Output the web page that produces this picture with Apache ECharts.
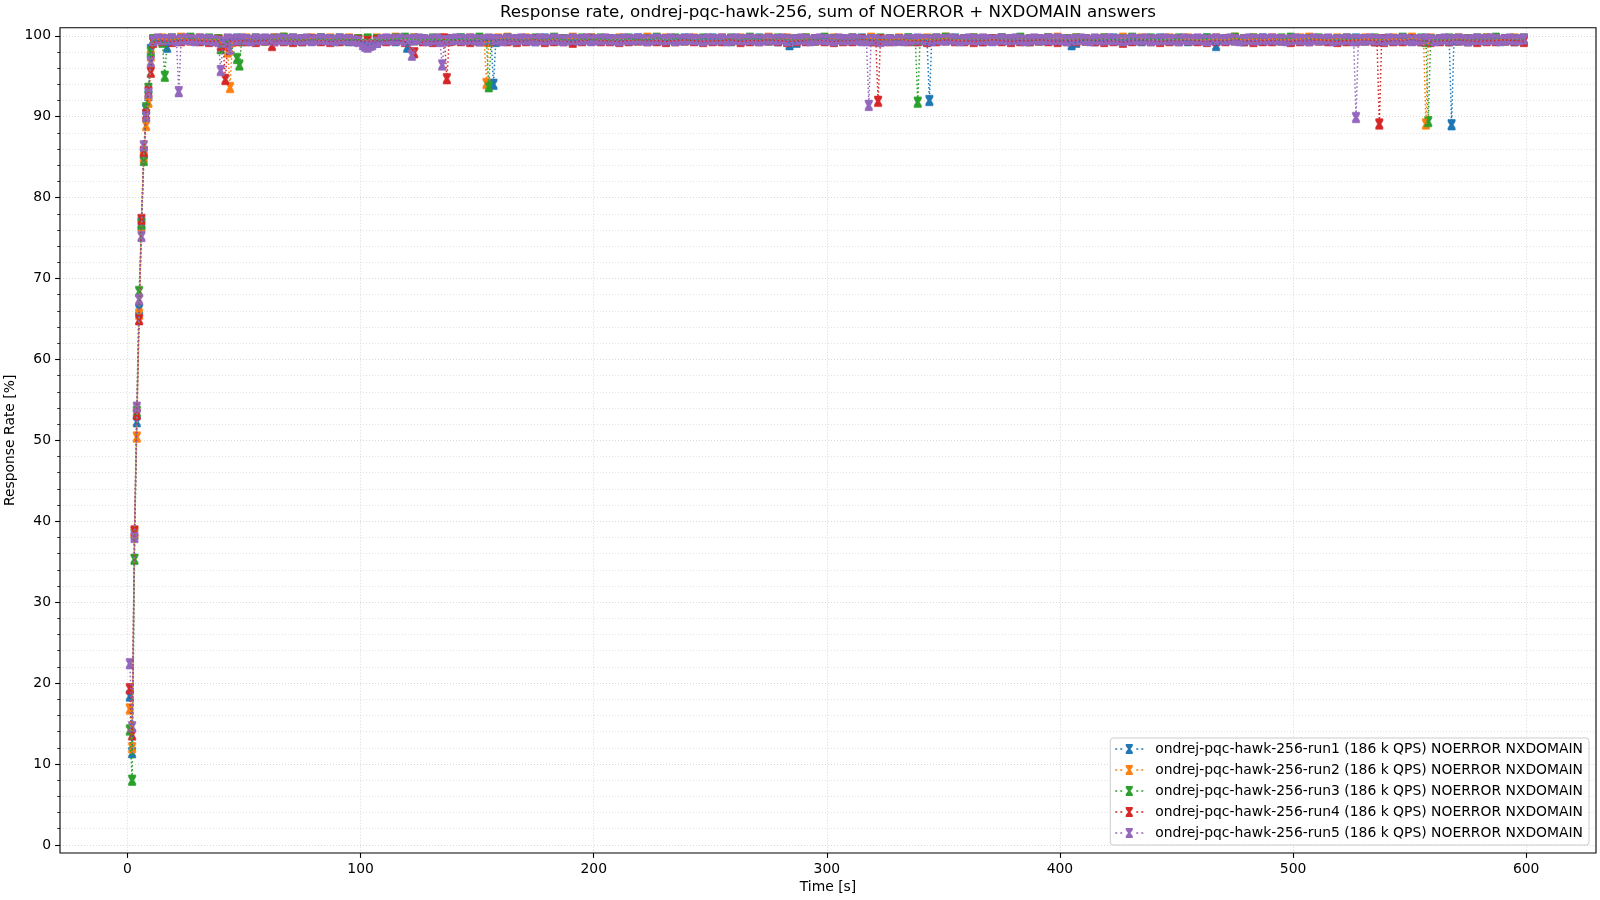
<!DOCTYPE html>
<html><head><meta charset="utf-8">
<script src="https://cdn.jsdelivr.net/npm/echarts@6/dist/echarts.min.js"></script>
<style>html,body{margin:0;padding:0;background:#fff}#c{width:1600px;height:900px}</style>
</head><body><div id="c"></div>
<script>
const titleText = 'Response rate, ondrej-pqc-hawk-256, sum of NOERROR + NXDOMAIN answers';
const xAxisTitle = 'Time [s]';
const yAxisTitle = 'Response Rate [%]';
const seriesNames = [
  'ondrej-pqc-hawk-256-run1 (186 k QPS) NOERROR NXDOMAIN',
  'ondrej-pqc-hawk-256-run2 (186 k QPS) NOERROR NXDOMAIN',
  'ondrej-pqc-hawk-256-run3 (186 k QPS) NOERROR NXDOMAIN',
  'ondrej-pqc-hawk-256-run4 (186 k QPS) NOERROR NXDOMAIN',
  'ondrej-pqc-hawk-256-run5 (186 k QPS) NOERROR NXDOMAIN'
];
const colors = ['#1f77b4', '#ff7f0e', '#2ca02c', '#d62728', '#9467bd'];

// ramp-up seconds
const rampTimes = [1, 2, 3, 4, 5, 6, 7, 8, 9, 10];
const run1Ramp = [18.4, 11.4, 38.4, 52.3, 66.2, 76.9, 85.4, 90.9, 92.6, 98.3];
const run2Ramp = [16.8, 12.0, 38.6, 50.4, 65.6, 76.5, 85.0, 88.9, 91.8, 97.5];
const run3Ramp = [14.2, 8.0, 35.3, 53.6, 68.4, 76.7, 84.6, 91.1, 93.5, 98.0];
const run4Ramp = [19.3, 13.6, 38.8, 53.2, 64.9, 77.3, 85.7, 90.3, 93.1, 95.5];
const run5Ramp = [22.4, 14.6, 38.0, 54.1, 67.4, 75.2, 86.4, 90.0, 92.9, 96.8];

// steady-state samples, starting at t = 11 s
const plateauStart = 11;
const plateauStep = [4, 4, 4, 4, 2];
const run1Plateau = [
  99.3,99.5,99.4,99.5,99.6,99.5,99.4,99.5,99.5,99.6,
  99.5,99.4,99.5,99.6,99.5,99.5,99.4,99.5,99.6,99.5,
  99.5,99.4,99.5,99.0,99.2,99.5,99.4,99.5,99.6,99.5,
  99.4,99.5,99.5,99.6,99.5,99.4,99.5,99.5,99.6,99.5,
  99.5,99.4,99.6,99.5,99.5,99.4,99.5,99.6,99.5,99.5,
  99.4,99.5,99.6,99.5,99.5,99.4,99.5,99.6,99.5,99.5,
  99.6,99.5,99.4,99.5,99.5,99.6,99.5,99.4,99.5,99.2,
  99.5,99.5,99.6,99.4,99.5,99.5,99.6,99.5,99.4,99.5,
  99.5,99.6,99.5,99.4,99.5,99.5,99.6,99.5,99.5,99.4,
  99.5,99.6,99.5,99.5,99.4,99.5,99.6,99.5,99.5,99.2,
  99.5,99.4,99.5,99.6,99.5,99.5,99.4,99.5,99.6,99.5,
  99.5,99.4,99.5,99.6,99.1,99.5,99.5,99.4,99.5,99.6,
  99.5,99.5,99.4,99.5,99.6,99.5,99.5,99.4,99.5,99.6,
  99.5,99.4,99.5,99.5,99.6,99.5,99.4,99.5,99.5,99.6,
  99.5,99.4,99.5,99.6,99.5,99.5,99.4,99.5
];
const run2Plateau = [
  99.5,99.6,99.5,99.7,99.5,99.6,99.5,99.5,99.6,99.5,
  99.6,99.5,99.5,99.6,99.7,99.5,99.5,99.6,99.5,99.6,
  99.5,99.6,99.5,99.5,99.6,99.5,99.7,99.5,99.6,99.5,
  99.5,99.6,99.5,99.5,99.6,99.5,99.5,99.6,99.7,99.5,
  99.6,99.5,99.5,99.6,99.5,99.7,99.5,99.6,99.5,99.5,
  99.6,99.5,99.5,99.7,99.5,99.6,99.5,99.5,99.6,99.5,
  99.5,99.6,99.5,99.6,99.5,99.5,99.7,99.5,99.6,99.5,
  99.6,99.5,99.5,99.6,99.5,99.6,99.5,99.7,99.5,99.5,
  99.6,99.5,99.5,99.6,99.5,99.7,99.5,99.5,99.6,99.5,
  99.5,99.6,99.5,99.6,99.5,99.5,99.6,99.7,99.5,99.6,
  99.5,99.5,99.6,99.5,99.7,99.5,99.6,99.5,99.5,99.6,
  99.5,99.6,99.5,99.5,99.6,99.5,99.7,99.5,99.6,99.5,
  99.6,99.5,99.5,99.6,99.7,99.5,99.5,99.6,99.5,99.5,
  99.6,99.5,99.5,99.6,99.5,99.7,99.5,99.6,99.5,99.5,
  99.6,99.5,99.5,99.6,99.5,99.5,99.6,99.5
];
const run3Plateau = [
  99.5,99.4,99.6,99.5,99.7,99.5,99.6,99.5,99.5,99.6,
  99.5,99.6,99.5,99.5,99.7,99.6,99.5,99.5,99.6,99.5,
  99.6,99.5,99.5,99.6,99.5,99.5,99.6,99.7,99.5,99.5,
  99.6,99.5,99.5,99.6,99.5,99.7,99.5,99.5,99.6,99.5,
  99.5,99.6,99.5,99.7,99.5,99.5,99.6,99.5,99.6,99.5,
  99.5,99.6,99.5,99.5,99.7,99.5,99.6,99.5,99.5,99.6,
  99.5,99.5,99.6,99.5,99.7,99.5,99.5,99.6,99.5,99.5,
  99.6,99.5,99.7,99.5,99.5,99.6,99.5,99.5,99.6,99.5,
  99.5,99.6,99.5,99.5,99.6,99.7,99.5,99.5,99.6,99.5,
  99.5,99.6,99.5,99.7,99.5,99.5,99.6,99.5,99.5,99.6,
  99.5,99.5,99.6,99.5,99.5,99.7,99.5,99.6,99.5,99.5,
  99.6,99.5,99.5,99.6,99.5,99.5,99.7,99.5,99.6,99.5,
  99.5,99.6,99.7,99.5,99.5,99.6,99.5,99.5,99.6,99.5,
  99.5,99.6,99.5,99.5,99.7,99.5,99.6,99.5,99.5,99.6,
  99.5,99.5,99.6,99.5,99.7,99.5,99.5,99.6
];
const run4Plateau = [
  99.2,99.4,99.3,99.4,99.5,99.4,99.3,99.4,99.5,99.4,
  99.4,99.3,99.5,99.4,99.4,99.3,99.4,99.5,99.4,99.3,
  99.4,99.5,99.4,99.3,99.4,99.4,99.5,99.3,99.4,99.4,
  99.3,99.4,99.5,99.4,99.3,99.4,99.4,99.5,99.4,99.3,
  99.4,99.5,99.3,99.4,99.4,99.2,99.4,99.5,99.4,99.4,
  99.3,99.4,99.5,99.4,99.4,99.3,99.4,99.5,99.4,99.3,
  99.4,99.4,99.5,99.3,99.4,99.4,99.5,99.4,99.3,99.4,
  99.4,99.5,99.4,99.3,99.4,99.4,99.5,99.4,99.3,99.4,
  99.5,99.4,99.4,99.3,99.4,99.5,99.4,99.4,99.3,99.4,
  99.5,99.4,99.3,99.4,99.4,99.5,99.4,99.3,99.4,99.4,
  99.5,99.4,99.3,99.4,99.2,99.4,99.5,99.4,99.3,99.4,
  99.4,99.5,99.4,99.3,99.4,99.4,99.5,99.4,99.3,99.4,
  99.4,99.5,99.3,99.4,99.4,99.5,99.4,99.3,99.4,99.4,
  99.5,99.4,99.3,99.4,99.4,99.5,99.4,99.3,99.4,99.4,
  99.5,99.4,99.3,99.4,99.4,99.5,99.4,99.3
];
const run5Plateau = [
  99.4,99.6,99.5,99.5,99.6,99.4,99.5,99.6,99.5,99.4,
  99.6,99.5,99.5,99.4,99.6,99.5,99.6,99.5,99.5,99.6,
  99.5,99.4,99.6,99.5,99.6,99.5,99.4,99.6,99.5,99.5,
  99.6,99.5,99.5,99.6,99.4,99.5,99.6,99.5,99.5,99.4,
  99.6,99.5,99.5,99.4,99.3,99.0,98.8,98.9,99.2,99.5,
  99.6,99.5,99.5,99.6,99.4,99.5,99.5,99.6,99.5,99.4,
  99.5,99.6,99.5,99.4,99.5,99.6,99.5,99.5,99.6,99.5,
  99.4,99.5,99.6,99.5,99.5,99.4,99.6,99.5,99.5,99.6,
  99.5,99.5,99.4,99.6,99.5,99.5,99.6,99.5,99.4,99.5,
  99.6,99.5,99.5,99.6,99.4,99.5,99.5,99.6,99.5,99.5,
  99.4,99.6,99.5,99.5,99.6,99.5,99.4,99.5,99.6,99.5,
  99.5,99.6,99.4,99.5,99.5,99.6,99.5,99.5,99.4,99.6,
  99.5,99.5,99.6,99.4,99.5,99.6,99.5,99.5,99.6,99.5,
  99.4,99.5,99.6,99.5,99.5,99.6,99.4,99.5,99.5,99.6,
  99.5,99.4,99.5,99.6,99.5,99.5,99.4,99.6,99.5,99.5,
  99.6,99.5,99.4,99.5,99.6,99.5,99.3,99.4,99.5,99.4,
  99.5,99.4,99.5,99.5,99.6,99.5,99.5,99.4,99.6,99.5,
  99.5,99.6,99.5,99.4,99.5,99.6,99.5,99.5,99.6,99.5,
  99.4,99.5,99.6,99.5,99.5,99.6,99.5,99.4,99.5,99.6,
  99.5,99.5,99.6,99.5,99.6,99.5,99.4,99.5,99.5,99.6,
  99.5,99.4,99.6,99.5,99.5,99.6,99.5,99.5,99.4,99.5,
  99.6,99.5,99.5,99.6,99.4,99.5,99.5,99.6,99.5,99.5,
  99.4,99.6,99.5,99.5,99.6,99.5,99.4,99.5,99.6,99.5,
  99.5,99.6,99.5,99.4,99.5,99.6,99.5,99.5,99.6,99.5,
  99.6,99.5,99.5,99.4,99.5,99.6,99.5,99.5,99.4,99.6,
  99.5,99.5,99.6,99.4,99.5,99.5,99.6,99.5,99.4,99.5,
  99.5,99.6,99.5,99.5,99.4,99.6,99.5,99.5,99.6,99.5,
  99.4,99.5,99.5,99.6,99.5,99.4,99.5,99.6,99.5,99.5,
  99.6,99.5,99.4,99.5,99.6,99.5,99.5,99.6,99.5,99.4,
  99.5,99.6,99.5,99.5,99.6
];

// short drops: [time s, response rate %]
const run1Dips = [[17,98.6],[103,98.9],[120,98.6],[156,99.4],[157,94.0],[158,99.3],[284,98.9],[343,99.4],[344,92.0],[345,99.5],[405,98.9],[467,98.8],[567,99.4],[568,89.0],[569,99.5]];
const run2Dips = [[43,98.0],[44,93.6],[45,99.3],[153,99.4],[154,94.1],[155,99.3],[556,99.4],[557,89.1],[558,99.4]];
const run3Dips = [[15,99.2],[16,95.0],[17,99.4],[40,98.4],[47,97.2],[48,96.4],[49,99.4],[154,99.4],[155,93.7],[156,99.5],[338,99.4],[339,91.8],[340,99.5],[557,99.3],[558,89.4],[559,99.5]];
const run4Dips = [[40,98.8],[41,98.9],[42,94.6],[43,99.3],[62,98.8],[123,97.9],[136,99.6],[137,94.7],[138,99.4],[321,99.4],[322,91.9],[323,99.5],[536,99.4],[537,89.1],[538,99.5]];
const run5Dips = [[21,99.4],[22,93.1],[23,99.5],[39,99.3],[40,95.7],[41,99.2],[44,98.3],[101,98.9],[102,98.7],[103,98.6],[104,98.8],[105,98.9],[122,97.6],[134,99.3],[135,96.4],[136,99.4],[317,99.4],[318,91.4],[319,99.5],[526,99.4],[527,89.9],[528,99.5]];

// error-bar half widths (percentage points)
const errHalf = [0.65, 0.65, 0.65, 0.65, 0.65];

const xTicks = [0, 100, 200, 300, 400, 500, 600];
const yTicks = [0, 10, 20, 30, 40, 50, 60, 70, 80, 90, 100];

const ramps = [run1Ramp, run2Ramp, run3Ramp, run4Ramp, run5Ramp];
const plateaus = [run1Plateau, run2Plateau, run3Plateau, run4Plateau, run5Plateau];
const dips = [run1Dips, run2Dips, run3Dips, run4Dips, run5Dips];

function buildPoints(k) {
  const m = new Map();
  ramps[k].forEach((v, i) => m.set(rampTimes[i], v));
  plateaus[k].forEach((v, i) => m.set(plateauStart + i * plateauStep[k], v));
  dips[k].forEach(([t, v]) => m.set(t, v));
  return [...m.entries()].sort((a, b) => a[0] - b[0]);
}

const FONT = 'DejaVu Sans';
const X_MIN = -28.95, X_MAX = 629.95, Y_MIN = -1, Y_MAX = 101;
const G = {left: 60, top: 27.7, width: 1536, height: 825.3};
const pxX = G.width / (X_MAX - X_MIN), pxY = G.height / (Y_MAX - Y_MIN);
const x0px = G.left + (xTicks[0] - X_MIN) * pxX;
const x1px = G.left + (xTicks[xTicks.length - 1] - X_MIN) * pxX;
const y100px = G.top + (Y_MAX - yTicks[yTicks.length - 1]) * pxY;
const y0px = G.top + (Y_MAX - yTicks[0]) * pxY;

const legendIcon = 'path://M0 4.2h2v1.6h-2z M5 4.2h2v1.6h-2z M10.5 0h7v2l-2.3 3l2.3 3v2h-7v-2l2.3-3l-2.3-3z M21 4.2h2v1.6h-2z M26 4.2h2v1.6h-2z';

const series = [];
for (let k = 0; k < 5; k++) {
  const pts = buildPoints(k);
  const col = colors[k];
  const e = errHalf[k];
  series.push({
    name: seriesNames[k], type: 'line', xAxisIndex: 0, yAxisIndex: 0,
    data: pts, showSymbol: false, symbol: 'none', color: col,
    lineStyle: {color: col, width: 1.5, type: [1.5, 2.5]},
    animation: false, silent: true, z: 2
  });
  series.push({
    name: seriesNames[k], type: 'custom', xAxisIndex: 0, yAxisIndex: 0,
    data: pts, color: col, animation: false, silent: true, z: 2,
    encode: {x: 0, y: 1},
    renderItem: function (params, api) {
      const t = api.value(0), v = api.value(1);
      const top = api.coord([t, v + e]);
      const bot = api.coord([t, v - e]);
      const cx = top[0], yt = top[1], yb = bot[1], ym = (yt + yb) / 2;
      const w = 3.6, wm = 1.7, ct = 2.0;
      return {
        type: 'polygon',
        shape: {points: [
          [cx - w, yt], [cx + w, yt], [cx + w, yt + ct], [cx + wm, ym],
          [cx + w, yb - ct], [cx + w, yb], [cx - w, yb], [cx - w, yb - ct],
          [cx - wm, ym], [cx - w, yt + ct]
        ]},
        style: {fill: col, stroke: col, lineWidth: 0.6}
      };
    }
  });
}

const gridLine = {show: true, lineStyle: {color: '#cfcfcf', width: 0.8, type: [1, 2]}};
const labelStyle = {color: '#000', fontFamily: FONT, fontSize: 13.9};

const chart = echarts.init(document.getElementById('c'), null, {renderer: 'canvas'});
chart.setOption({
  animation: false,
  backgroundColor: '#fff',
  textStyle: {fontFamily: FONT},
  grid: [
    {left: G.left, top: G.top, width: G.width, height: G.height, show: true, borderColor: '#000', borderWidth: 1.1, backgroundColor: 'transparent', z: 3},
    {left: x0px, top: G.top, width: x1px - x0px, height: G.height, show: false},
    {left: G.left, top: y100px, width: G.width, height: y0px - y100px, show: false}
  ],
  xAxis: [
    {type: 'value', gridIndex: 0, min: X_MIN, max: X_MAX, show: false},
    {type: 'value', gridIndex: 1, min: xTicks[0], max: xTicks[xTicks.length - 1], interval: 100,
     axisLine: {show: false}, axisTick: {show: true, length: 4.9, lineStyle: {color: '#000', width: 1.1}},
     axisLabel: Object.assign({margin: 9}, labelStyle), splitLine: gridLine},
    {type: 'value', gridIndex: 2, min: 0, max: 1, show: false}
  ],
  yAxis: [
    {type: 'value', gridIndex: 0, min: Y_MIN, max: Y_MAX, show: false},
    {type: 'value', gridIndex: 1, min: 0, max: 1, show: false},
    {type: 'value', gridIndex: 2, min: yTicks[0], max: yTicks[yTicks.length - 1], interval: 10,
     axisLine: {show: false}, axisTick: {show: true, length: 4.9, lineStyle: {color: '#000', width: 1.1}},
     minorTick: {show: true, splitNumber: 5, length: 2.8, lineStyle: {color: '#000', width: 0.8}},
     axisLabel: Object.assign({margin: 9}, labelStyle), splitLine: gridLine,
     minorSplitLine: {show: true, lineStyle: {color: '#dcdcdc', width: 0.8, type: [1, 2]}}}
  ],
  legend: {
    show: true, orient: 'vertical', right: 11, bottom: 55,
    padding: [4, 6, 5, 5], itemGap: 7, itemWidth: 28, itemHeight: 10,
    backgroundColor: 'rgba(255,255,255,0.8)', borderColor: '#cccccc', borderWidth: 1, borderRadius: 3,
    selectedMode: false, z: 10,
    textStyle: {color: '#000', fontFamily: FONT, fontSize: 13.9, padding: [0, 0, 0, 7]},
    data: seriesNames.map(n => ({name: n, icon: legendIcon}))
  },
  graphic: [
    {type: 'text', x: (G.left + G.left + G.width) / 2, y: 12.5, style: {text: titleText, fill: '#000', fontFamily: FONT, fontSize: 16.7, align: 'center', verticalAlign: 'middle'}},
    {type: 'text', x: (G.left + G.left + G.width) / 2, y: 887.5, style: {text: xAxisTitle, fill: '#000', fontFamily: FONT, fontSize: 13.9, align: 'center', verticalAlign: 'middle'}},
    {type: 'text', x: 10.5, y: G.top + G.height / 2, rotation: Math.PI / 2, style: {text: yAxisTitle, fill: '#000', fontFamily: FONT, fontSize: 13.9, align: 'center', verticalAlign: 'middle'}}
  ],
  series: series
});
</script>
</body></html>
